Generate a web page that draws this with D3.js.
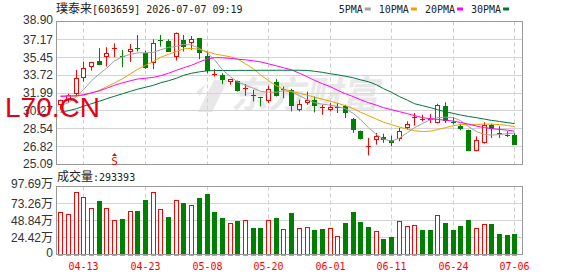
<!DOCTYPE html>
<html>
<head>
<meta charset="utf-8">
<script src="https://cdn.jsdelivr.net/npm/d3@7"></script>
<style>
  body { margin: 0; background: #fff; }
  svg { display: block; }
  .mono { font-family: "DejaVu Sans Mono", monospace; font-size: 10px; }
  .cjk { font-family: "Noto Sans CJK SC", sans-serif; font-size: 12px; }
  .ylab { font-family: "Liberation Sans", Arial, sans-serif; font-size: 12px; fill: #333; }
</style>
</head>
<body>
<div id="chart"></div>
<script>
// 60 trading days shown on the daily K chart
var dates = ["04-08","04-09","04-10","04-13","04-14","04-15","04-16","04-17","04-20","04-21",
  "04-22","04-23","04-24","04-27","04-28","04-29","04-30","05-06","05-07","05-08",
  "05-11","05-12","05-13","05-14","05-15","05-18","05-19","05-20","05-21","05-22",
  "05-25","05-26","05-27","05-28","05-29","06-01","06-02","06-03","06-04","06-05",
  "06-08","06-09","06-10","06-11","06-12","06-15","06-16","06-17","06-18","06-22",
  "06-23","06-24","06-25","06-26","06-29","06-30","07-01","07-02","07-03","07-06"];

var opens = [30.80,31.35,31.92,33.49,34.49,35.10,35.51,36.30,35.55,36.00,
  36.32,35.84,34.87,37.07,37.02,35.45,37.12,36.80,37.28,35.58,
  33.85,33.75,33.07,33.17,32.47,31.78,31.60,31.18,33.07,32.37,
  32.31,30.32,31.03,31.35,30.60,30.38,30.66,30.77,29.49,28.29,
  26.85,27.43,27.76,27.43,27.59,28.62,29.64,29.52,29.48,29.10,
  30.77,29.16,28.78,28.46,26.37,27.18,28.94,28.14,27.98,27.98];
var highs = [31.35,31.92,34.23,35.03,35.00,36.32,36.42,36.79,36.15,36.73,
  37.60,36.07,37.18,37.60,37.18,37.84,37.60,37.50,37.30,35.99,
  34.30,33.90,33.35,33.20,32.86,32.31,31.62,32.70,33.33,32.62,
  32.40,31.35,32.14,31.66,30.86,31.03,31.03,30.86,29.58,28.36,
  27.66,28.14,28.07,27.88,28.62,29.26,30.06,29.90,29.97,30.96,
  31.09,29.68,29.03,28.46,27.81,29.16,29.03,28.78,28.30,28.14];
var lows = [30.38,31.05,31.73,33.10,34.16,34.68,34.55,35.45,34.49,35.00,
  36.00,34.33,34.30,36.47,35.97,35.13,36.00,36.16,35.26,33.91,
  33.58,32.85,32.79,32.14,31.73,31.18,30.70,31.03,31.66,31.50,
  30.22,30.22,30.86,30.12,29.90,30.22,30.06,29.58,28.14,27.50,
  25.96,27.01,27.18,26.85,27.33,28.46,28.84,29.26,29.10,29.08,
  29.10,28.94,28.39,26.37,26.37,27.11,27.66,27.66,27.75,27.01];
var closes = [31.28,31.78,33.43,34.39,34.97,34.74,35.84,36.30,35.48,36.25,
  36.22,34.39,36.80,37.02,36.00,37.77,36.42,37.18,35.90,34.16,
  33.85,33.27,33.33,32.20,32.47,31.68,31.54,32.38,31.73,32.37,
  30.77,30.96,31.28,30.70,30.60,30.64,30.66,30.06,28.39,27.59,
  26.85,27.88,27.50,27.18,28.36,29.03,29.64,29.52,29.48,30.80,
  29.26,29.12,28.55,26.37,27.50,28.94,28.52,28.14,27.91,27.01];

// volume in 手
var volumes = [611000,582000,905000,825000,668000,772000,668000,496000,515000,625000,
  629000,787000,905000,653000,543000,782000,744000,711000,815000,872000,
  615000,529000,453000,486000,496000,386000,386000,496000,529000,367000,
  601000,382000,396000,358000,372000,382000,267000,458000,615000,472000,
  400000,339000,229000,257000,482000,410000,425000,358000,358000,568000,
  458000,358000,415000,501000,382000,443000,443000,300000,286000,293393];

// moving averages as drawn
var ma5 = [30.77,31.06,31.64,32.31,33.18,33.85,34.38,35.10,35.49,35.73,
  35.87,35.87,35.92,36.16,36.40,36.50,36.69,36.64,36.30,35.87,
  35.20,34.23,33.56,33.08,32.74,32.45,32.16,32.07,32.07,32.21,
  32.12,31.73,31.35,31.06,30.91,30.82,30.67,30.48,30.00,29.42,
  28.65,27.98,27.54,27.35,27.64,28.17,28.65,29.04,29.42,29.61,
  29.66,29.61,29.33,28.75,28.27,27.98,27.93,27.98,28.07,28.12];
var ma10 = [31.73,31.71,31.68,31.78,31.97,32.26,32.60,32.98,33.37,33.85,
  34.28,34.67,35.05,35.44,35.73,36.01,36.26,36.30,36.21,35.97,
  35.77,35.63,35.49,35.29,34.81,34.33,33.75,33.18,32.69,32.36,
  32.16,31.97,31.78,31.59,31.39,31.20,31.01,30.77,30.48,30.14,
  29.81,29.47,29.18,28.94,28.70,28.51,28.36,28.27,28.31,28.46,
  28.65,28.84,28.94,28.94,28.96,28.99,28.99,28.94,28.86,28.75];
var ma20 = [31.66,31.70,31.73,31.83,32.02,32.21,32.45,32.74,32.98,33.18,
  33.34,33.42,33.51,33.66,33.90,34.19,34.43,34.67,35.00,35.29,
  35.41,35.39,35.34,35.26,35.20,35.10,35.00,34.81,34.62,34.43,
  34.23,33.90,33.56,33.22,32.89,32.60,32.26,31.92,31.64,31.35,
  31.06,30.82,30.58,30.38,30.19,30.00,29.81,29.61,29.52,29.44,
  29.37,29.28,29.15,28.99,28.80,28.65,28.56,28.48,28.41,28.30];
var ma30 = [30.14,30.29,30.48,30.72,30.96,31.20,31.44,31.68,31.92,32.16,
  32.36,32.55,32.74,32.98,33.18,33.42,33.70,33.90,34.04,34.14,
  34.16,34.17,34.17,34.18,34.18,34.18,34.19,34.19,34.19,34.19,
  34.19,34.19,34.17,34.09,33.99,33.85,33.75,33.61,33.46,33.27,
  33.08,32.79,32.41,32.07,31.64,31.30,30.96,30.77,30.58,30.38,
  30.19,30.02,29.87,29.73,29.61,29.47,29.35,29.25,29.13,29.04];

var maNames = ["5PMA", "10PMA", "20PMA", "30PMA"];
var priceTicks = [38.90, 37.17, 35.45, 33.72, 31.99, 30.27, 28.54, 26.82, 25.09];
var volTicks = [976900, 732600, 488400, 244200, 0];
var volTickLabels = ["97.69万", "73.26万", "48.84万", "24.42万", "0"];
var dateTicks = ["04-13", "04-23", "05-08", "05-20", "06-01", "06-11", "06-24", "07-06"];
var signalDates = ["04-17"];
var stockName = "璞泰来", stockCode = "603659", stamp = "2026-07-07 09:19";

var W = 578, H = 276;
var left = 56.5, right = 522.5;
var pTop = 21.5, pBot = 164.5, vTop = 186.5, vBot = 254.5;
var RED = "#ff0000", GREEN = "#008000";
var maColors = ["#a0a0a0", "#f0a000", "#ff00ff", "#00753a"];

var svg = d3.select("#chart").append("svg")
    .attr("width", W)
    .attr("height", H);

var x = d3.scaleBand().domain(dates).range([56.45, 518.15]);
function xc(d) { return Math.round(x(d) + x.bandwidth() / 2); }

var y = d3.scaleLinear().domain([25.09, 38.90]).range([pBot, pTop]);
var yv = d3.scaleLinear().domain([0, 976900]).range([vBot, vTop]);

// watermark
var wm = svg.append("g").attr("fill", "#e8e8e8");
wm.append("path")
    .attr("d", "M214,80 L228,80 L212,112 L198,112 Z M206,84 L200,96 L196,92 Z");
wm.append("text")
    .attr("x", 232).attr("y", 108)
    .attr("transform", "skewX(-12) translate(22,0)")
    .style("font-family", "Noto Sans CJK SC")
    .style("font-size", "37px")
    .style("font-weight", "bold")
    .text("东方财富");

// gridlines
function hGrid(scale, ticks, top, bot) {
  svg.append("g")
    .selectAll("line")
    .data(ticks.filter(function(t, i) { return i > 0 && i < ticks.length - 1; }))
    .join("line")
      .attr("x1", left).attr("x2", right)
      .attr("y1", function(d) { return Math.round(scale(d) - 0.5) + 0.5; })
      .attr("y2", function(d) { return Math.round(scale(d) - 0.5) + 0.5; })
      .attr("stroke", "#d4d4d4");
  svg.append("g")
    .selectAll("line")
    .data(dateTicks)
    .join("line")
      .attr("x1", function(d) { return xc(d) + 0.5; })
      .attr("x2", function(d) { return xc(d) + 0.5; })
      .attr("y1", top).attr("y2", bot)
      .attr("stroke", "#cfcfcf")
      .attr("stroke-dasharray", "4,3");
}
hGrid(y, priceTicks, pTop, pBot);
hGrid(yv, volTicks, vTop, vBot);

// candles
var candles = svg.append("g");
dates.forEach(function(d, i) {
  var o = opens[i], c = closes[i], up = c >= o;
  var cx = xc(d);
  var col = up ? RED : GREEN;
  var yTop = y(Math.max(o, c)), yBot = y(Math.min(o, c));
  var bh = Math.round(yBot) - Math.round(yTop);
  candles.append("line")
      .attr("x1", cx + 0.5).attr("x2", cx + 0.5)
      .attr("y1", y(highs[i])).attr("y2", Math.round(yTop))
      .attr("stroke", col);
  candles.append("line")
      .attr("x1", cx + 0.5).attr("x2", cx + 0.5)
      .attr("y1", Math.round(yTop) + Math.max(bh, 1)).attr("y2", y(lows[i]))
      .attr("stroke", col);
  if (bh < 1) {
    candles.append("line")
        .attr("x1", cx - 2).attr("x2", cx + 3)
        .attr("y1", Math.round(yTop) + 0.5).attr("y2", Math.round(yTop) + 0.5)
        .attr("stroke", col);
  } else if (up) {
    candles.append("rect")
        .attr("x", cx - 1.5).attr("y", Math.round(yTop) + 0.5)
        .attr("width", 4).attr("height", bh - 1)
        .attr("fill", "#fff").attr("stroke", col);
  } else {
    candles.append("rect")
        .attr("x", cx - 2).attr("y", Math.round(yTop))
        .attr("width", 5).attr("height", bh)
        .attr("fill", col);
  }
});

// moving averages
[ma5, ma10, ma20, ma30].forEach(function(ma, k) {
  svg.append("path")
      .datum(ma)
      .attr("fill", "none")
      .attr("stroke", maColors[k])
      .attr("stroke-width", 1)
      .attr("d", d3.line()
        .x(function(v, i) { return xc(dates[i]) + 0.5; })
        .y(function(v) { return y(v); }));
});

// volume bars, coloured by change against previous close
var vols = svg.append("g");
dates.forEach(function(d, i) {
  var up = i === 0 ? closes[i] >= opens[i] : closes[i] >= closes[i - 1];
  var cx = xc(d);
  var top = Math.round(yv(volumes[i]));
  if (up) {
    vols.append("rect")
        .attr("x", cx - 1.5).attr("y", top + 0.5)
        .attr("width", 4).attr("height", Math.round(vBot) - top - 0.5)
        .attr("fill", "#fff").attr("stroke", RED);
  } else {
    vols.append("rect")
        .attr("x", cx - 2).attr("y", top)
        .attr("width", 5).attr("height", Math.round(vBot) - top + 0.5)
        .attr("fill", GREEN);
  }
});

// frames
svg.append("rect")
    .attr("x", left).attr("y", pTop).attr("width", right - left).attr("height", pBot - pTop)
    .attr("fill", "none").attr("stroke", "#999");
svg.append("rect")
    .attr("x", left).attr("y", vTop).attr("width", right - left).attr("height", vBot - vTop)
    .attr("fill", "none").attr("stroke", "#999");

// y axes
var pAxis = svg.append("g")
    .attr("transform", "translate(" + (left - 0.5) + ",0)")
    .call(d3.axisLeft(y).tickValues(priceTicks).tickFormat(d3.format(".2f")).tickSize(0).tickPadding(3));
pAxis.select(".domain").remove();
pAxis.selectAll("text").attr("class", "ylab").attr("fill", null)
    .attr("dy", function(d, i) { return i === 0 ? "0.2em" : (i === priceTicks.length - 1 ? "0.25em" : "0.32em"); });

var vAxis = svg.append("g")
    .attr("transform", "translate(" + (left - 0.5) + ",0)")
    .call(d3.axisLeft(yv).tickValues(volTicks)
      .tickFormat(function(d, i) { return volTickLabels[i]; }).tickSize(0).tickPadding(3));
vAxis.select(".domain").remove();
vAxis.selectAll("text").attr("class", "ylab").attr("fill", null)
    .attr("dy", function(d, i) { return i === 0 ? "0.1em" : (i === volTicks.length - 1 ? "0.2em" : "0.32em"); })
    .style("font-family", "'Liberation Sans', 'Noto Sans CJK SC', sans-serif");

// x axis
var xAxis = svg.append("g")
    .attr("transform", "translate(0," + vBot + ")")
    .call(d3.axisBottom(x).tickValues(dateTicks).tickSize(0).tickPadding(8));
xAxis.select(".domain").remove();
xAxis.selectAll("text")
    .attr("class", "mono")
    .attr("fill", RED)
    .attr("x", 0.5);
xAxis.selectAll(".tick").attr("transform", function(d) { return "translate(" + xc(d) + ",0)"; });

// title
var title = svg.append("text").attr("x", 56).attr("y", 13).attr("fill", "#222");
title.append("tspan").attr("class", "cjk").text(stockName);
title.append("tspan").attr("class", "mono").text("[" + stockCode + "] " + stamp);

// legend
var lx = 338.7;
maNames.forEach(function(name, k) {
  svg.append("text").attr("class", "mono").attr("x", lx).attr("y", 13).attr("fill", "#222").text(name);
  lx += name.length * 6.02 + 2;
  svg.append("rect").attr("x", lx).attr("y", 7.5).attr("width", 6).attr("height", 3).attr("fill", maColors[k]);
  lx += 6 + 8;
});

// volume label
var vl = svg.append("text").attr("x", 57).attr("y", 181).attr("fill", "#222");
vl.append("tspan").attr("class", "cjk").text("成交量");
vl.append("tspan").attr("class", "mono").text(":" + volumes[volumes.length - 1]);

// signal marks
signalDates.forEach(function(d) {
  var cx = xc(d) + 0.5;
  svg.append("path")
      .attr("d", "M" + (cx - 2.5) + ",156 L" + cx + ",153 L" + (cx + 2.5) + ",156 Z")
      .attr("fill", RED);
  svg.append("text").attr("class", "mono").attr("x", cx).attr("y", 164.5)
      .attr("text-anchor", "middle").attr("fill", RED).style("font-size", "11px").text("S");
});

// overlay stamp
svg.append("text")
    .attr("x", 5).attr("y", 117)
    .attr("fill", "#e60012")
    .style("font-family", "'Liberation Sans', Arial, sans-serif")
    .style("font-size", "28px")
    .text("L70.CN");
</script>
</body>
</html>
